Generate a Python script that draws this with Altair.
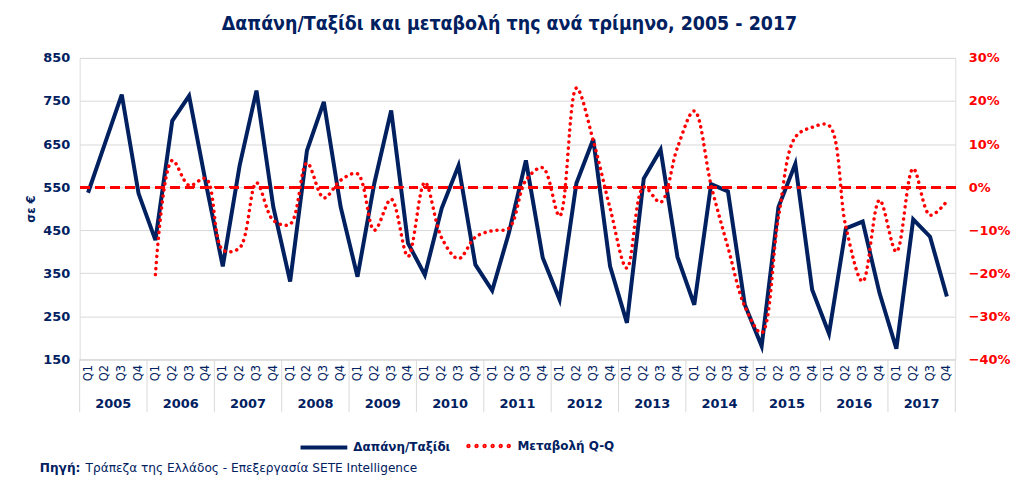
import altair as alt
import pandas as pd

years = list(range(2005, 2018))
quarters = ["Q1", "Q2", "Q3", "Q4"]

spend = [
    537, 651, 765, 535,
    427, 704, 762, 558,
    366, 600, 774, 504,
    331, 635, 748, 504,
    342, 559, 728, 420,
    346, 501, 600, 370,
    310, 445, 612, 386,
    289, 559, 661, 366,
    235, 570, 637, 388,
    277, 557, 540, 277,
    181, 504, 604, 312,
    210, 454, 470, 304,
    175, 475, 435, 296,
]

yoy_pct = [
    None, None, None, None,
    -20.3, 6.2, 0.4, 2.0,
    -14.6, -14.1, 1.0, -7.7,
    -8.6, 5.6, -2.5, 1.6,
    3.1, -10.0, -2.8, -16.1,
    1.1, -11.8, -16.6, -11.6,
    -10.1, -9.5, 1.6, 4.5,
    -6.7, 23.0, 10.8, -4.9,
    -18.8, 0.0, -3.5, 9.2,
    17.7, 0.4, -14.0, -27.7,
    -33.8, -7.0, 11.6, 13.9,
    14.3, -9.2, -21.9, -3.0,
    -15.0, 4.3, -6.5, -3.3,
]

left_ticks = [150, 250, 350, 450, 550, 650, 750, 850]
right_ticks = [-0.4, -0.3, -0.2, -0.1, 0.0, 0.1, 0.2, 0.3]

NAVY = "#002060"
RED = "#FF0000"
GRID = "#D9D9D9"
FONT = "DejaVu Sans"

SERIES1 = "Δαπάνη/Ταξίδι"
SERIES2 = "Μεταβολή Q-Q"

rows = []
for i, v in enumerate(spend):
    rows.append({
        "idx": i,
        "year": years[i // 4],
        "q": quarters[i % 4],
        "spend": v,
        "yoy": None if yoy_pct[i] is None else yoy_pct[i] / 100.0,
    })
df = pd.DataFrame(rows)

year_df = pd.DataFrame({"year": [str(y) for y in years],
                        "mid": [4 * k + 1.5 for k in range(len(years))]})
sep_df = pd.DataFrame({"b": [4 * k - 0.5 for k in range(len(years) + 1)]})
source_df = pd.DataFrame({"bold": ["Πηγή:"],
                          "rest": ["Τράπεζα της Ελλάδος - Επεξεργασία SETE Intelligence"]})

x_scale = alt.Scale(domain=[-0.5, 51.5], nice=False, zero=False)
x_axis = alt.Axis(
    values=list(range(52)),
    labelExpr="'Q' + (datum.value % 4 + 1)",
    labelAngle=270, labelAlign="right", labelBaseline="middle",
    labelPadding=5, labelFontSize=11.5, labelFont=FONT, labelColor=NAVY,
    ticks=False, grid=False, domain=True, domainColor=GRID, domainWidth=1,
    title=None, labelOverlap=False, labelFlush=False, labelBound=False,
)

base = alt.Chart(df)

navy_line = base.mark_line(strokeWidth=4, strokeJoin="miter").encode(
    x=alt.X("idx:Q", scale=x_scale, axis=x_axis),
    y=alt.Y("spend:Q",
            scale=alt.Scale(domain=[150, 850], nice=False, zero=False),
            axis=alt.Axis(values=left_ticks, grid=True, gridColor=GRID, gridWidth=1,
                          domain=False, ticks=False, labelPadding=10,
                          labelFont=FONT, labelFontSize=13, labelFontWeight="bold",
                          labelColor=NAVY, title="σε €", titleFont=FONT,
                          titleFontSize=11.5, titleFontWeight="bold", titleColor=NAVY,
                          titlePadding=6)),
    color=alt.Color("series:N",
                    scale=alt.Scale(domain=[SERIES1], range=[NAVY]),
                    legend=alt.Legend(orient="none", legendX=220, legendY=366,
                                      title=None, symbolType="stroke",
                                      symbolSize=2209, symbolStrokeWidth=4,
                                      labelFont=FONT, labelFontSize=12,
                                      labelFontWeight="bold", labelColor=NAVY,
                                      labelOffset=4, padding=0)),
).transform_calculate(series="'" + SERIES1 + "'")

dots = ""
for xc in [-0.9, -0.54, -0.18, 0.18, 0.54, 0.9]:
    r = 0.04
    dots += "M{:.3f},0A{r},{r} 0 1,1 {:.3f},0A{r},{r} 0 1,1 {:.3f},0Z".format(
        xc - r, xc + r, xc - r, r=r)

red_line = base.mark_line(strokeWidth=3.5, strokeCap="round",
                          strokeDash=[0.1, 6], interpolate="catmull-rom").encode(
    x=alt.X("idx:Q", scale=x_scale, axis=x_axis),
    y=alt.Y("yoy:Q",
            scale=alt.Scale(domain=[-0.4, 0.3], nice=False, zero=False),
            axis=alt.Axis(values=right_ticks, format=".0%", orient="right",
                          grid=False, domain=False, ticks=False, labelPadding=13,
                          labelFont=FONT, labelFontSize=13, labelFontWeight="bold",
                          labelColor=RED, title=None)),
    color=alt.Color("series:N",
                    scale=alt.Scale(domain=[SERIES2], range=[RED]),
                    legend=alt.Legend(orient="none", legendX=387, legendY=366,
                                      title=None, symbolType=dots,
                                      symbolSize=2025, symbolStrokeWidth=2.6,
                                      labelFont=FONT, labelFontSize=12,
                                      labelFontWeight="bold", labelColor=NAVY,
                                      labelOffset=5, padding=0)),
).transform_filter("isValid(datum.yoy)").transform_calculate(series="'" + SERIES2 + "'")

zero_rule = base.mark_rule(color=RED, strokeWidth=2.4, strokeDash=[9, 6]).encode(
    y=alt.datum(0, type="quantitative")
)

red_layer = alt.layer(zero_rule, red_line)

sep_rules = alt.Chart(sep_df).mark_rule(color=GRID, strokeWidth=1).encode(
    x=alt.X("b:Q", scale=x_scale, axis=x_axis),
    y=alt.value(303), y2=alt.value(356),
)
year_text = alt.Chart(year_df).mark_text(
    font=FONT, fontSize=13, fontWeight="bold", color=NAVY, baseline="middle"
).encode(
    x=alt.X("mid:Q", scale=x_scale, axis=x_axis),
    y=alt.value(348),
    text="year:N",
)
src_bold = alt.Chart(source_df).mark_text(
    font=FONT, fontSize=12.2, fontWeight="bold", color=NAVY, align="left", baseline="middle"
).encode(x=alt.value(-40), y=alt.value(412), text="bold:N")
src_rest = alt.Chart(source_df).mark_text(
    font=FONT, fontSize=12.2, color=NAVY, align="left", baseline="middle"
).encode(x=alt.value(6), y=alt.value(412), text="rest:N")

chart = alt.layer(
    navy_line, red_layer, sep_rules, year_text, src_bold, src_rest
).resolve_scale(
    y="independent", color="independent"
).properties(
    width=880, height=303,
    padding={"left": 72, "top": 49, "right": 60, "bottom": 120},
    autosize=alt.AutoSizeParams(type="none"),
    title=alt.TitleParams(
        "Δαπάνη/Ταξίδι και μεταβολή της ανά τρίμηνο, 2005 - 2017",
        font="DejaVu Sans Condensed", fontSize=19.5, fontWeight="bold", color=NAVY,
        anchor="middle", offset=18, dx=-8,
    ),
).configure_view(stroke=None).configure_axisX(labelOverlap=False).configure(background="white")

chart.save("out.html", embed_options={"renderer": "svg", "actions": False})
